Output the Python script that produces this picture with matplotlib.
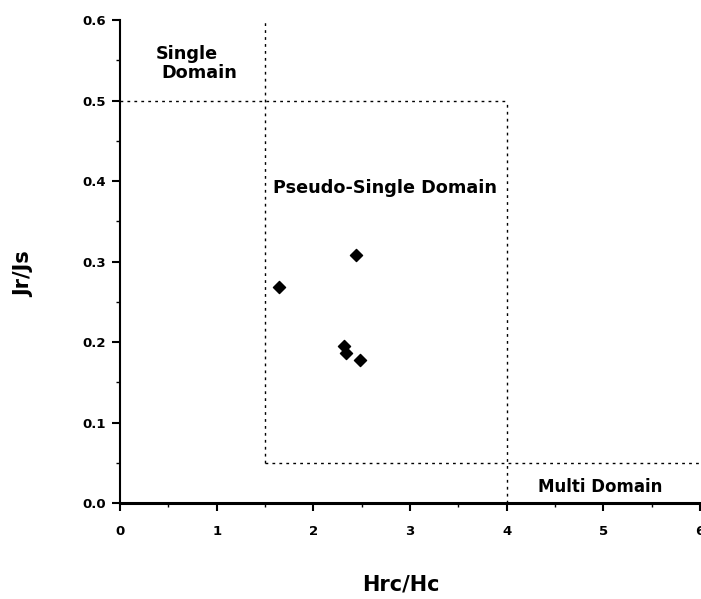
import matplotlib
matplotlib.use("Agg")
import matplotlib.pyplot as plt
from matplotlib.ticker import MultipleLocator

# Day plot data: Hrc/Hc vs Jr/Js
hrc_hc = [1.64, 2.44, 2.32, 2.34, 2.48]
jr_js = [0.269, 0.308, 0.195, 0.187, 0.178]

# domain boundaries
sd_jr = 0.5
md_jr = 0.05
sd_hr = 1.5
md_hr = 4.0

plt.rcParams['font.family'] = ['DejaVu Sans']
plt.rcParams['font.weight'] = 'bold'

fig = plt.figure(figsize=(7.01, 5.99), dpi=100)
ax = fig.add_axes([0.1712, 0.160, 0.8274, 0.8066])

ax.scatter(hrc_hc, jr_js, marker='D', s=38, color='black', zorder=3)

ls = (0, (2, 3))
ax.plot([0, md_hr], [sd_jr, sd_jr], color='black', lw=1, ls=ls)
ax.plot([sd_hr, sd_hr], [md_jr, 0.6], color='black', lw=1, ls=ls)
ax.plot([md_hr, md_hr], [0, sd_jr], color='black', lw=1, ls=ls)
ax.plot([sd_hr, 6], [md_jr, md_jr], color='black', lw=1, ls=ls)

ax.text(0.37, 0.552, "Single", ha='left', va='baseline',
        fontsize=12.7, fontweight='bold')
ax.text(0.43, 0.528, "Domain", ha='left', va='baseline',
        fontsize=12.7, fontweight='bold')
ax.text(1.58, 0.385, "Pseudo-Single Domain", ha='left', va='baseline',
        fontsize=12.7, fontweight='bold')
ax.text(4.32, 0.0137, "Multi Domain", ha='left', va='baseline',
        fontsize=12, fontweight='bold')

ax.set_xlim(0, 6)
ax.set_ylim(0, 0.6)
ax.xaxis.set_major_locator(MultipleLocator(1))
ax.xaxis.set_minor_locator(MultipleLocator(0.5))
ax.yaxis.set_major_locator(MultipleLocator(0.1))
ax.yaxis.set_minor_locator(MultipleLocator(0.05))
ax.xaxis.set_major_formatter(lambda v, p: f"{v:.0f}")
ax.yaxis.set_major_formatter(lambda v, p: f"{v:.1f}")

for s in ['top', 'right']:
    ax.spines[s].set_visible(False)
ax.spines['left'].set_linewidth(1.5)
ax.spines['bottom'].set_linewidth(2.2)

ax.tick_params(axis='x', which='major', direction='out', length=6, width=1.5,
               pad=10, labelsize=9.5)
ax.tick_params(axis='y', which='major', direction='out', length=6, width=1.5,
               pad=4, labelsize=9.5)
ax.tick_params(which='minor', direction='out', length=3, width=1)

ax.set_xlabel("Hrc/Hc", fontsize=15, fontweight='bold')
ax.set_ylabel("Jr/Js", fontsize=15, fontweight='bold')
ax.xaxis.label.set_va('center')
ax.yaxis.label.set_va('center')
ax.xaxis.set_label_coords(0.484, -0.168)
ax.yaxis.set_label_coords(-0.165, 0.475)

fig.savefig("out.png", dpi=100)
